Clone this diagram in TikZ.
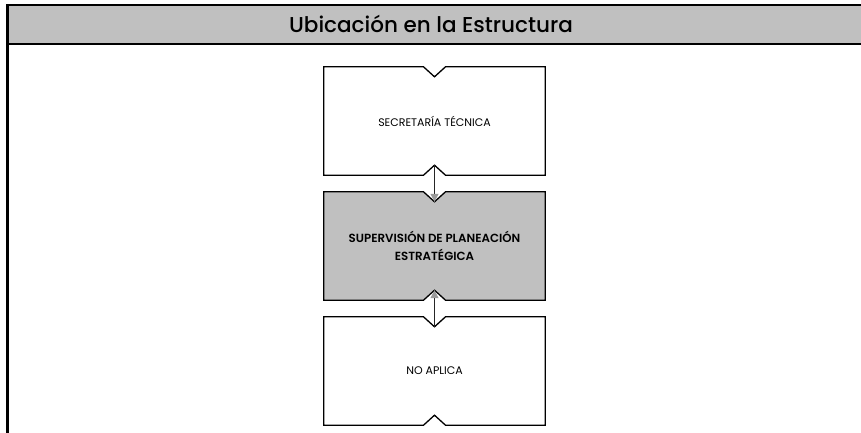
\documentclass[tikz,border=0pt]{standalone}
\usepackage{fontspec}
\setmainfont{Poppins}
\newfontfamily\medio{Poppins Medium}
\newfontfamily\seminegra{Poppins SemiBold}
\usetikzlibrary{arrows.meta,backgrounds}
\definecolor{gris}{HTML}{C0C0C0}
\tikzset{
  caja/.style={minimum width=221pt, minimum height=108pt, inner sep=0pt, align=center, font=\fontsize{11}{18}\selectfont},
  flecha/.style={line width=1pt, draw=black!85, -{Triangle[width=8pt,length=8pt,color=gris!80!black]}}
}
\newcommand{\contorno}[2]{%
  \draw[line width=1.3pt, fill=#2] (#1.north west) -- ([xshift=-11pt]#1.north) -- ([yshift=-10pt]#1.north)
    -- ([xshift=11pt]#1.north) -- (#1.north east) -- (#1.south east) -- ([xshift=11pt]#1.south)
    -- ([yshift=10pt]#1.south) -- ([xshift=-11pt]#1.south) -- (#1.south west) -- cycle;}
\begin{document}
\begin{tikzpicture}[x=1pt,y=-1pt]
            \useasboundingbox (0,0) rectangle (861,433);
            \draw[line width=2.4pt, fill=gris] (7.5,5) rectangle (863,44);
            \draw[line width=2.4pt] (7.5,44) -- (7.5,434);
            \node[font=\fontsize{21.5}{24}\medio] at (431,24) (titulo) {Ubicación en la Estructura};
            \node[caja] at (434.5,121) (st) {SECRETARÍA TÉCNICA};
            \node[caja, font=\fontsize{11.8}{18}\seminegra] at (434.5,246) (sp) {SUPERVISIÓN DE PLANEACIÓN\\ESTRATÉGICA};
            \node[caja] at (434.5,371) (na) {NO APLICA};
            \begin{scope}[on background layer]
              \contorno{st}{white}
              \contorno{sp}{gris}
              \contorno{na}{white}
            \end{scope}
            \draw[flecha] ([yshift=10pt]st.south) to ([yshift=-10pt]sp.north);
            \draw[flecha] ([yshift=-10pt]na.north) to ([yshift=10pt]sp.south);
        \end{tikzpicture}
\end{document}
